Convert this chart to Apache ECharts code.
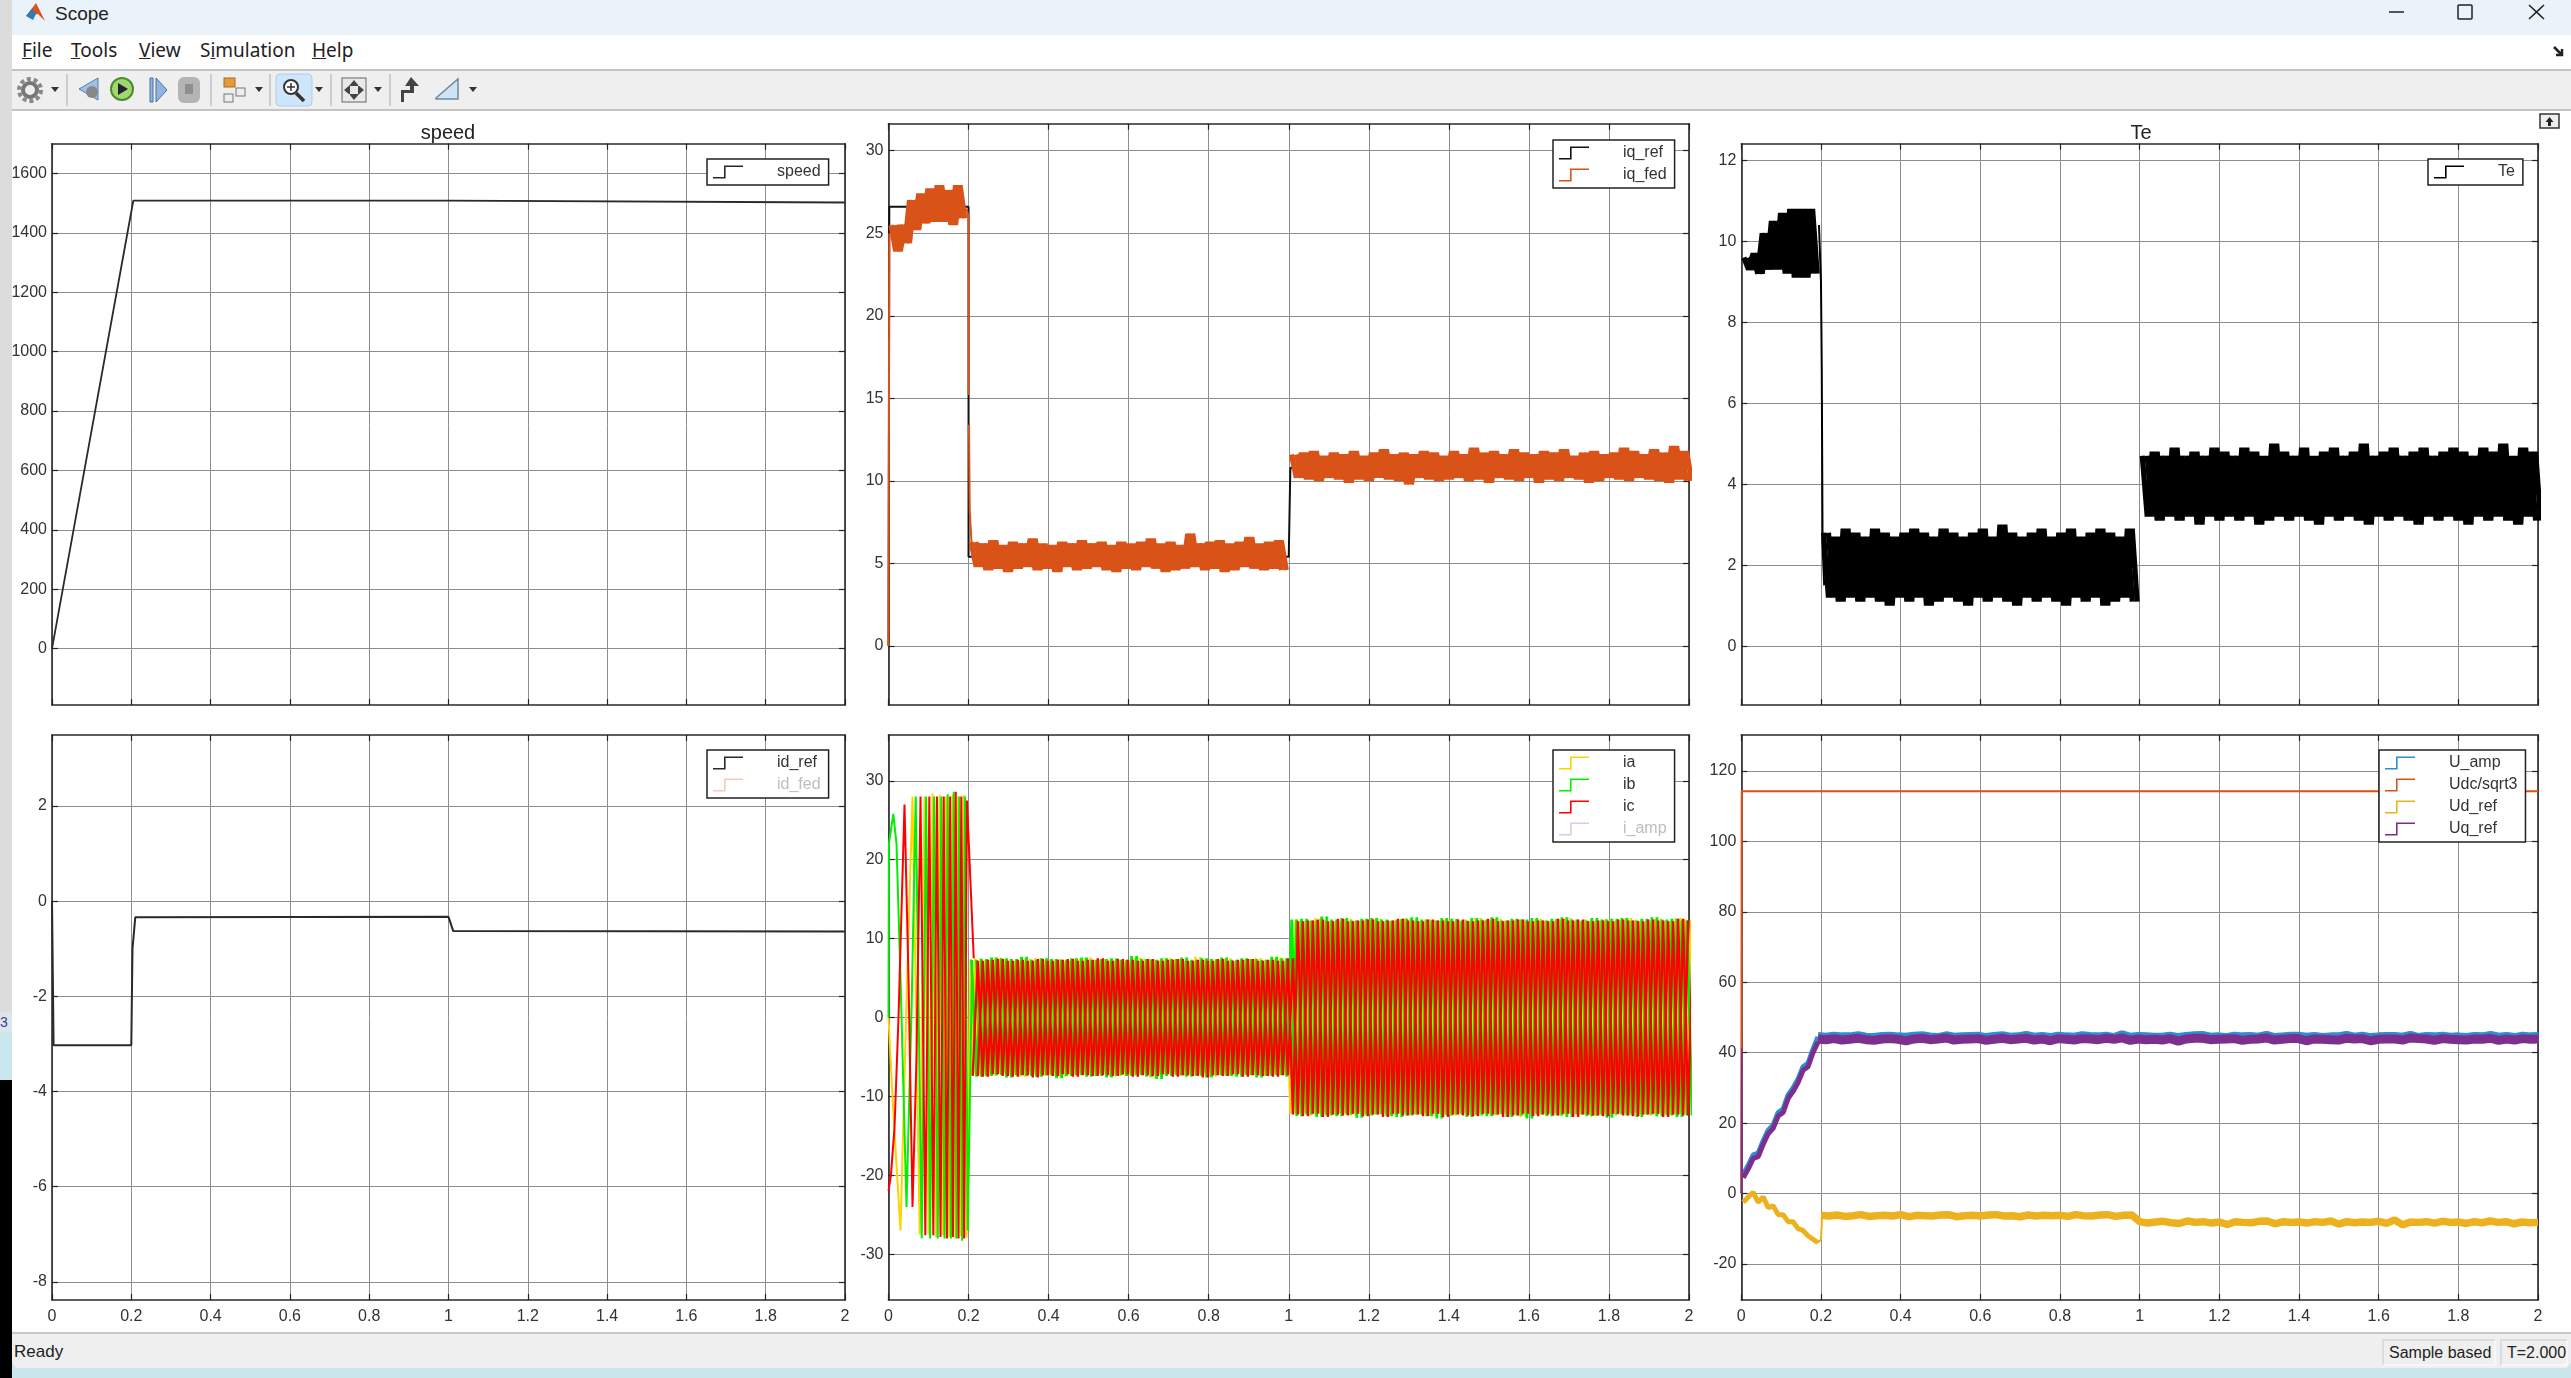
<!DOCTYPE html>
<html>
<head>
<meta charset="utf-8">
<title>Scope</title>
<script src="https://cdn.jsdelivr.net/npm/echarts@6/dist/echarts.min.js"></script>
<style>
    html, body { margin: 0; padding: 0; background: #c9e6ec; overflow: hidden; }
    #win { position: absolute; left: 0; top: 0; width: 2571px; height: 1378px; font-family: "Liberation Sans", Arial, sans-serif; color: #222; }
    #win div { position: absolute; box-sizing: border-box; }
    #picture { position: absolute; left: 0; top: 0; width: 2571px; height: 1378px; }
    .menu { font-family: "Noto Sans", sans-serif; font-size: 19px; top: 37px; }
    .field { border: 2px solid #dcdcdc; border-right-color: #f7f7f7; border-bottom-color: #f7f7f7; font-size: 16px; line-height: 24px; padding-left: 5px; white-space: nowrap; }
</style>
</head>
<body>
<div id="win">
    <!-- what lies behind the scope window -->
    <div style="left:0;top:0;width:12px;height:1012px;background:#dcdcdc"></div>
    <div style="left:0;top:1012px;width:12px;height:20px;background:#dfe3ea;color:#33409a;font-size:14px;line-height:20px">3</div>
    <div style="left:0;top:1032px;width:12px;height:48px;background:#c9e8ee"></div>
    <div style="left:0;top:1080px;width:12px;height:298px;background:#000"></div>
    <!-- window -->
    <div style="left:12px;top:0;width:2559px;height:1368px;background:#fff;border-bottom-left-radius:8px;border-bottom-right-radius:8px"></div>
    <div style="left:12px;top:0;width:2559px;height:35px;background:#eaf3f9"></div>
    <div style="left:55px;top:2px;font-size:19px;line-height:24px">Scope</div>
    <div class="menu" style="left:22px"><u>F</u>ile</div>
    <div class="menu" style="left:71px"><u>T</u>ools</div>
    <div class="menu" style="left:139px"><u>V</u>iew</div>
    <div class="menu" style="left:200px">S<u>i</u>mulation</div>
    <div class="menu" style="left:312px"><u>H</u>elp</div>
    <div style="left:12px;top:69px;width:2559px;height:42px;background:#efefef;border-top:2px solid #c4c4c4;border-bottom:2px solid #c4c4c4"></div>
    <div style="left:12px;top:1332px;width:2559px;height:36px;background:#efefef;border-top:2px solid #c8c8c8;border-bottom-left-radius:8px;border-bottom-right-radius:8px"></div>
    <div style="left:14px;top:1340px;font-size:17px;line-height:24px">Ready</div>
    <div class="field" style="left:2382px;top:1339px;width:114px;height:27px">Sample based</div>
    <div class="field" style="left:2500px;top:1339px;width:68px;height:27px">T=2.000</div>
    <svg style="position:absolute;left:0;top:0" width="2571" height="132">
        <!-- logo and window buttons -->
        <polygon points="26,16 36,3 45,21 38,14" fill="#d9531e"/>
        <polygon points="26,16 33,20 36,14 32,9" fill="#2b7bbf"/>
        <line x1="2389" y1="12" x2="2404" y2="12" stroke="#222" stroke-width="1.5"/>
        <rect x="2458" y="5" width="14" height="14" rx="1" fill="none" stroke="#222" stroke-width="1.5"/>
        <path d="M2529 5L2544 19M2544 5L2529 19" stroke="#222" stroke-width="1.5"/>
        <path d="M2554 47l8 8m0-6v6h-6" stroke="#222" stroke-width="2.5" fill="none"/>
        <!-- toolbar -->
        <circle cx="30" cy="90" r="11" fill="none" stroke="#888" stroke-width="4" stroke-dasharray="4 2.9"/>
        <circle cx="30" cy="90" r="7" fill="none" stroke="#777" stroke-width="4"/>
        <g fill="#333"><path d="M51 87h8l-4 5z"/><path d="M255 87h8l-4 5z"/><path d="M315 87h8l-4 5z"/><path d="M374 87h8l-4 5z"/><path d="M469 87h8l-4 5z"/></g>
        <g stroke="#aaa"><line x1="67" y1="74" x2="67" y2="106"/><line x1="211" y1="74" x2="211" y2="106"/><line x1="270" y1="74" x2="270" y2="106"/><line x1="331" y1="74" x2="331" y2="106"/><line x1="390" y1="74" x2="390" y2="106"/></g>
        <path d="M98 78l-19 11l19 11z" fill="#9cc3e6" stroke="#5a7fa8"/>
        <circle cx="92" cy="92" r="6" fill="#888"/>
        <circle cx="122" cy="89" r="11" fill="#9fd86e" stroke="#4c8a2a" stroke-width="2"/>
        <path d="M118 83l10 6l-10 6z" fill="#223"/>
        <path d="M150 78h3v24h-3zM156 78l11 12l-11 12z" fill="#8fb4e0" stroke="#4f6f9f"/>
        <rect x="178" y="77" width="22" height="26" rx="6" fill="#b4b4b4"/>
        <rect x="185" y="84" width="8" height="10" fill="#8e8e8e"/>
        <rect x="224" y="78" width="11" height="9" fill="#e59b3a" stroke="#a86a1a"/>
        <rect x="224" y="94" width="9" height="8" fill="#eee" stroke="#777"/>
        <rect x="236" y="88" width="9" height="8" fill="#eee" stroke="#777"/>
        <rect x="276" y="74" width="36" height="32" rx="4" fill="#cfe5fa" stroke="#a9cdf0"/>
        <circle cx="291" cy="87" r="7" fill="#fff" stroke="#333" stroke-width="2"/>
        <path d="M287 87h8M291 83v8" stroke="#333" stroke-width="1.5"/>
        <path d="M296 93l8 8" stroke="#333" stroke-width="3.5"/>
        <rect x="342" y="78" width="24" height="24" fill="#e8e8e8" stroke="#666"/>
        <path d="M354 80l5 6h-10zM354 100l5-6h-10zM344 90l6-5v10zM364 90l-6-5v10z" fill="#444"/>
        <path d="M411 77l8 9h-5v7l-10 0v9h-3v-12h9v-4h-5z" fill="#444"/>
        <path d="M436 98l22-19v20h-22z" fill="#cfe4f2" stroke="#6e8aa0" stroke-width="1.5"/>
        <!-- undock -->
        <rect x="2540" y="114" width="19" height="14" fill="#eee" stroke="#333" stroke-width="1.5"/>
        <path d="M2549.5 117l4 5h-2.5v4h-3v-4h-2.5z" fill="#222"/>
    </svg>
    <div id="picture"></div>
</div>

<script>
    // time axis
    var xTicks = [0, 0.2, 0.4, 0.6, 0.8, 1, 1.2, 1.4, 1.6, 1.8, 2];

    // y ticks per panel
    var speedTicks = [0, 200, 400, 600, 800, 1000, 1200, 1400, 1600];
    var iqTicks = [0, 5, 10, 15, 20, 25, 30];
    var teTicks = [0, 2, 4, 6, 8, 10, 12];
    var idTicks = [-8, -6, -4, -2, 0, 2];
    var phaseTicks = [-30, -20, -10, 0, 10, 20, 30];
    var voltTicks = [-20, 0, 20, 40, 60, 80, 100, 120];

    // speed
    var speedT = [0, 0.205, 1, 1.004, 2];
    var speed = [0, 1508, 1508, 1502, 1502];

    // id
    var idRefT = [0, 0.004, 0.2, 0.203, 0.21, 1, 1.012, 2];
    var idRef = [0, -3.03, -3.03, -1, -0.34, -0.33, -0.63, -0.64];

    // iq
    var iqRefT = [0, 0.002, 0.2, 0.2, 1, 1.004, 2];
    var iqRef = [0, 26.6, 26.6, 5.4, 5.4, 10.8, 10.8];
    var iqFedRiseT = [0, 0.002];
    var iqFedRise = [0, 25];
    var iqFedDropT = [0.195, 0.2, 0.2, 0.2, 0.201, 0.203, 0.208];
    var iqFedDrop = [26.5, 26, 15.2, null, 13.4, 8.2, 6];
    var iqFedStart = [25.5, 23.9, 25.5, 24.4, 27, 25.2, 27.4, 25.6, 27.7, 25.7, 27.9, 25.7, 27.6, 25.5, 27.9, 25.9];
    var iqFedLow = [
        6.3, 4.8, 6.2, 4.6, 6.4, 4.7, 6.1, 4.5, 6.3, 4.7, 6.2, 4.8, 6.5, 4.6, 6.2, 4.7,
        6.1, 4.5, 6.3, 4.8, 6.2, 4.6, 6.4, 4.7, 6.2, 4.8, 6.3, 4.6, 6.1, 4.5, 6.3, 4.7,
        6.2, 4.6, 6.3, 4.8, 6.5, 4.7, 6.2, 4.5, 6.3, 4.6, 6.1, 4.7, 6.8, 4.8, 6.2, 4.6,
        6.3, 4.7, 6.4, 4.5, 6.2, 4.6, 6.3, 4.8, 6.6, 4.7, 6.2, 4.6, 6.3, 4.7, 6.4, 4.6
    ];
    var iqFedHigh = [
        11.6, 10.2, 11.7, 10.1, 11.8, 10.0, 11.5, 10.2, 11.7, 10.1, 11.6, 9.9, 11.8, 10.1, 11.5, 10.0,
        11.7, 10.2, 11.9, 10.1, 11.6, 10.0, 11.7, 9.8, 11.6, 10.2, 11.8, 10.1, 11.7, 10.0, 11.5, 10.1,
        11.8, 10.2, 11.6, 10.0, 12.0, 10.1, 11.7, 9.9, 11.8, 10.2, 11.6, 10.1, 11.9, 10.0, 11.7, 10.2,
        11.6, 9.9, 11.8, 10.1, 11.7, 10.0, 11.9, 10.2, 11.5, 10.1, 11.7, 9.9, 11.8, 10.0, 11.6, 10.2,
        11.7, 10.1, 12.0, 10.0, 11.8, 10.2, 11.6, 10.1, 11.9, 10.0, 11.7, 9.9, 12.1, 10.1, 11.8, 10.0
    ];

    // Te
    var teStart = [9.6, 9.3, 9.7, 9.2, 10.2, 9.3, 10.5, 9.3, 10.7, 9.2, 10.8, 9.1, 10.8, 9.1, 10.8, 9.2];
    var teDropT = [0.195, 0.2, 0.202, 0.204, 0.208];
    var teDrop = [10.4, 9, 6.8, 2.5, 1.5];
    var teLow = [
        2.8, 1.2, 2.7, 1.1, 2.9, 1.2, 2.8, 1.1, 2.7, 1.2, 2.9, 1.1, 2.8, 1.0, 2.7, 1.2,
        2.8, 1.1, 2.9, 1.2, 2.8, 1.0, 2.7, 1.1, 2.9, 1.2, 2.8, 1.1, 2.7, 1.0, 2.8, 1.2,
        2.9, 1.1, 2.7, 1.2, 3.0, 1.1, 2.8, 1.0, 2.7, 1.2, 2.8, 1.1, 2.9, 1.2, 2.7, 1.1,
        2.8, 1.0, 2.9, 1.2, 2.7, 1.1, 2.8, 1.2, 2.9, 1.0, 2.8, 1.1, 2.7, 1.2, 2.9, 1.1
    ];
    var teHigh = [
        4.7, 3.2, 4.8, 3.1, 4.7, 3.2, 4.9, 3.1, 4.7, 3.2, 4.8, 3.0, 4.7, 3.2, 4.9, 3.1,
        4.8, 3.2, 4.7, 3.1, 4.9, 3.2, 4.8, 3.0, 4.7, 3.1, 5.0, 3.2, 4.8, 3.1, 4.7, 3.2,
        4.9, 3.1, 4.7, 3.0, 4.8, 3.2, 4.9, 3.1, 4.7, 3.2, 4.8, 3.1, 5.0, 3.0, 4.7, 3.2,
        4.8, 3.1, 4.9, 3.2, 4.7, 3.1, 4.8, 3.0, 4.9, 3.2, 4.7, 3.1, 4.8, 3.2, 4.9, 3.1,
        4.8, 3.0, 4.7, 3.2, 4.9, 3.1, 4.8, 3.2, 5.0, 3.1, 4.7, 3.0, 4.9, 3.2, 4.8, 3.1
    ];

    // phase currents, start-up swing
    var iaStartT = [0, 0.012, 0.03, 0.045, 0.06, 0.078, 0.09, 0.1, 0.11, 0.119, 0.128, 0.136, 0.144, 0.152, 0.16, 0.167, 0.174, 0.181, 0.188, 0.195, 0.205];
    var iaStart = [0, -12, -27, 2, 28, -27.5, 28, -27.5, 28.4, -27.8, 28.2, -27.6, 28, -27.8, 28.3, -28, 28, -27.7, 28.2, -27.9, 7.4];
    var ibStartT = [0, 0.001, 0.012, 0.02, 0.03, 0.045, 0.058, 0.068, 0.083, 0.094, 0.104, 0.114, 0.123, 0.132, 0.14, 0.148, 0.156, 0.163, 0.17, 0.177, 0.184, 0.191, 0.198, 0.209];
    var ibStart = [0, 22, 25.8, 22, 5, -24, 2, 28, -28, 28, -28, 28, -28, 28, -28, 28.3, -28, 28.6, -28, 28, -28.3, 28, -27, 7.2];
    var icStartT = [0, 0.006, 0.015, 0.025, 0.04, 0.05, 0.06, 0.07, 0.08, 0.092, 0.102, 0.112, 0.121, 0.13, 0.138, 0.146, 0.154, 0.161, 0.168, 0.175, 0.182, 0.189, 0.196, 0.213];
    var icStart = [-22, -20, -14, 0, 27, 5, -24, -5, 28, -27.6, 28, -27.6, 28, -27.8, 28, -28, 28, -27.8, 28.6, -28, 28, -28, 27.5, 7.5];

    // phase currents, steady running
    var iaBand = [
        -7.2, 7.5, -7.3, 7.3, -7.4, 7.6, -7.2, 7.4, -7.3, 7.2, -7.5, 7.4, -7.2, 7.5, -7.4, 7.3,
        -7.3, 7.4, -7.5, 7.2, -7.3, 7.5, -7.2, 7.6, -7.4, 7.3, -7.2, 7.4, -7.5, 7.3, -7.4, 7.2,
        -7.3, 7.6, -7.2, 7.4, -7.6, 7.3, -7.3, 7.5, -7.2, 7.4, -7.4, 7.2, -7.3, 7.7, -7.2, 7.4,
        -7.5, 7.3, -7.3, 7.5, -7.4, 7.2, -7.2, 7.4, -7.3, 7.5, -7.4, 7.3, -7.2, 7.6, -7.3, 7.4,
        -12.2, 12.4, -12.1, 12.3, -12.4, 12.6, -12.2, 12.3, -12.3, 12.2, -12.1, 12.5, -12.4, 12.3, -12.2, 12.4,
        -12.3, 12.5, -12.2, 12.2, -12.4, 12.4, -12.1, 12.6, -12.3, 12.3, -12.2, 12.4, -12.5, 12.3, -12.2, 12.5,
        -12.4, 12.2, -12.1, 12.4, -12.3, 12.6, -12.2, 12.3, -12.4, 12.5, -12.1, 12.3, -12.3, 12.4, -12.6, 12.2,
        -12.2, 12.5, -12.3, 12.3, -12.1, 12.4, -12.4, 12.6, -12.2, 12.2, -12.3, 12.4, -12.5, 12.3, -12.2, 12.5,
        -12.4, 12.3, -12.2, 12.6, -12.1, 12.4, -12.3, 12.2, -12.4, 12.5, -12.2, 12.3, -12.3, 12.6, -12.2, 12.4
    ];
    var ibBand = [
        7.3, -7.5, 7.4, -7.4, 7.6, -7.3, 7.5, -7.6, 7.4, -7.3, 7.7, -7.4, 7.3, -7.5, 7.5, -7.3,
        7.4, -7.7, 7.3, -7.4, 7.5, -7.3, 7.6, -7.5, 7.3, -7.4, 7.4, -7.6, 7.5, -7.3, 7.3, -7.4,
        7.8, -7.3, 7.4, -7.5, 7.3, -7.8, 7.5, -7.4, 7.4, -7.3, 7.6, -7.5, 7.3, -7.4, 7.5, -7.6,
        7.4, -7.3, 7.6, -7.4, 7.3, -7.5, 7.5, -7.3, 7.4, -7.6, 7.3, -7.4, 7.7, -7.3, 7.5, -7.5,
        12.4, -12.5, 12.5, -12.3, 12.3, -12.6, 12.8, -12.4, 12.4, -12.5, 12.6, -12.3, 12.3, -12.7, 12.5, -12.4,
        12.6, -12.3, 12.4, -12.5, 12.3, -12.6, 12.5, -12.4, 12.7, -12.3, 12.4, -12.5, 12.3, -12.8, 12.6, -12.4,
        12.5, -12.3, 12.3, -12.6, 12.6, -12.4, 12.4, -12.5, 12.7, -12.3, 12.3, -12.6, 12.5, -12.4, 12.4, -12.8,
        12.6, -12.3, 12.3, -12.5, 12.5, -12.4, 12.7, -12.6, 12.4, -12.3, 12.3, -12.5, 12.6, -12.4, 12.4, -12.7,
        12.5, -12.3, 12.6, -12.4, 12.3, -12.6, 12.5, -12.3, 12.7, -12.5, 12.4, -12.4, 12.5, -12.6, 12.3, -12.4
    ];
    var icBand = [
        -7.4, 7.2, -7.5, 7.3, -7.2, 7.4, -7.4, 7.2, -7.5, 7.3, -7.3, 7.2, -7.6, 7.4, -7.3, 7.2,
        -7.4, 7.3, -7.2, 7.4, -7.5, 7.2, -7.3, 7.3, -7.4, 7.5, -7.3, 7.2, -7.4, 7.4, -7.2, 7.3,
        -7.5, 7.2, -7.3, 7.4, -7.4, 7.2, -7.2, 7.3, -7.5, 7.4, -7.3, 7.2, -7.4, 7.3, -7.6, 7.2,
        -7.3, 7.4, -7.4, 7.2, -7.2, 7.3, -7.5, 7.4, -7.3, 7.2, -7.4, 7.3, -7.5, 7.2, -7.3, 7.5,
        -12.3, 12.2, -12.5, 12.3, -12.2, 12.4, -12.6, 12.2, -12.3, 12.5, -12.4, 12.2, -12.2, 12.3, -12.5, 12.4,
        -12.3, 12.2, -12.6, 12.3, -12.2, 12.5, -12.4, 12.3, -12.3, 12.2, -12.5, 12.4, -12.2, 12.3, -12.6, 12.2,
        -12.3, 12.4, -12.4, 12.2, -12.5, 12.3, -12.2, 12.5, -12.3, 12.2, -12.6, 12.3, -12.4, 12.4, -12.2, 12.2,
        -12.5, 12.3, -12.3, 12.2, -12.4, 12.5, -12.2, 12.3, -12.6, 12.4, -12.3, 12.2, -12.4, 12.3, -12.5, 12.2,
        -12.2, 12.4, -12.4, 12.3, -12.5, 12.2, -12.3, 12.4, -12.2, 12.3, -12.6, 12.2, -12.3, 12.5, -12.4, 12.3
    ];

    // voltages
    var udcT = [0, 0.001, 2];
    var udc = [0, 114.3, 114.3];
    var uqRiseT = [0, 0.001, 0.002];
    var uqRise = [0, 41.5, 5];
    var uqStart = [4.5, 7, 10, 10.5, 14, 17, 18.5, 22, 23, 27, 29, 31.5, 35, 36, 40, 43];
    var uaStart = [5.5, 8, 11, 11.5, 15, 18, 19.5, 23, 24, 28, 30, 32.5, 36, 37, 41, 44.5];
    var udStart = [-2.5, -1, 0.3, -2.5, -1, -4, -3.5, -6, -6, -8, -8, -10, -10.5, -12, -13, -14];
    var udDropT = [0.1925, 0.2, 0.203];
    var udDrop = [-14, -13, -6.2];
    var uqBand = [
        43.9, 43.7, 44.0, 43.6, 43.8, 44.1, 43.7, 43.5, 43.9, 44.0, 43.8, 43.4, 43.9, 44.1, 43.7, 43.9, 44.2, 43.6, 43.8, 43.9,
        44.0, 43.5, 43.8, 44.1, 43.7, 43.9, 44.1, 43.6, 43.9, 43.4, 44.0, 43.8, 43.6, 44.0, 43.9, 43.7, 44.1, 43.8, 44.2, 43.5,
        43.9, 43.7, 43.8, 43.6, 44.0, 43.3, 43.9, 44.1, 44.1, 43.7, 43.8, 43.9, 44.0, 43.5, 43.8, 43.9, 44.2, 43.6, 43.8, 44.0,
        44.0, 43.4, 43.9, 43.8, 43.7, 43.6, 44.1, 43.9, 44.0, 43.4, 43.8, 43.9, 43.9, 43.6, 44.2, 44.0, 43.9, 43.5, 44.0, 43.8,
        43.7, 43.6, 43.9, 43.8, 44.1, 43.5, 43.9, 43.6, 44.0, 43.8, 43.9
    ];
    var uaBand = [
        44.6, 44.4, 44.7, 44.5, 44.5, 44.8, 44.4, 44.3, 44.6, 44.7, 44.5, 44.4, 44.7, 44.8, 44.5, 44.3, 44.8, 44.4, 44.5, 44.6,
        44.7, 44.3, 44.6, 44.8, 44.4, 44.5, 44.9, 44.4, 44.6, 44.3, 44.7, 44.5, 44.4, 44.8, 44.6, 44.5, 44.7, 44.3, 45.1, 44.4,
        44.6, 44.5, 44.4, 44.4, 44.7, 44.3, 44.6, 44.8, 44.9, 44.4, 44.5, 44.3, 44.7, 44.5, 44.6, 44.4, 44.9, 44.3, 44.5, 44.7,
        44.7, 44.4, 44.6, 44.3, 44.5, 44.5, 44.9, 44.4, 44.7, 44.3, 44.5, 44.6, 44.6, 44.4, 44.9, 44.3, 44.6, 44.5, 44.7, 44.4,
        44.5, 44.3, 44.6, 44.5, 44.9, 44.4, 44.6, 44.3, 44.7, 44.5, 44.6
    ];
    var udBand = [
        -6.2, -6.4, -6.1, -6.5, -6.3, -6.0, -6.5, -6.3, -6.2, -6.4, -6.0, -6.6, -6.2, -6.3, -6.4, -6.1, -6.0, -6.6, -6.3, -6.2,
        -6.4, -6.1, -6.0, -6.4, -6.3, -6.6, -6.1, -6.4, -6.2, -6.3, -6.2, -6.5, -6.0, -6.3, -6.4, -6.1, -6.0, -6.5, -6.2, -6.1,
        -8.0, -8.4, -8.1, -7.9, -8.3, -8.5, -7.8, -8.2, -8.0, -8.4, -8.1, -8.8, -8.0, -8.2, -8.3, -7.9, -7.8, -8.6, -8.0, -8.2,
        -8.1, -8.4, -8.0, -8.2, -7.8, -8.7, -8.0, -8.3, -8.1, -8.2, -7.9, -8.5, -7.5, -8.9, -8.1, -8.2, -8.0, -8.4, -7.9, -8.2,
        -8.1, -8.5, -8.0, -8.3, -7.8, -8.2, -8.0, -8.6, -8.1, -8.3, -8.2
    ];

    function pts(ts, vs) {
        return ts.map(function(t, i) { return [t, vs[i]]; });
    }

    // scope samples come at a fixed step
    function sampled(start, step, vs) {
        return vs.map(function(v, i) { return [start + i * step, v]; });
    }

    var STEP_ICON = 'path://M0 11.5H11V0H30V1.6H12.6V13H0Z';

    var panels = [
        { left: 52, top: 143.7, right: 845, bottom: 705, min: -190, max: 1700, ticks: speedTicks, labels: false },
        { left: 888.5, top: 123.7, right: 1689, bottom: 705, min: -3.57, max: 31.63, ticks: iqTicks, labels: false },
        { left: 1741.3, top: 143.7, right: 2538, bottom: 705, min: -1.455, max: 12.41, ticks: teTicks, labels: false },
        { left: 52, top: 735, right: 845, bottom: 1300, min: -8.38, max: 3.49, ticks: idTicks, labels: true },
        { left: 888.5, top: 735, right: 1689, bottom: 1300, min: -35.8, max: 35.8, ticks: phaseTicks, labels: true },
        { left: 1741.3, top: 735, right: 2538, bottom: 1300, min: -30.25, max: 130.25, ticks: voltTicks, labels: true }
    ];

    var font = 'Liberation Sans';
    var grid = [], xAxis = [], yAxis = [];

    function plain(v) {
        return String(v);
    }

    panels.forEach(function(p, i) {
        grid.push({ left: p.left, top: p.top, width: p.right - p.left, height: p.bottom - p.top });
        var line = { show: true, onZero: false, lineStyle: { color: '#2a2a2a', width: 1.6 } };
        var tick = { show: true, inside: true, length: 6, lineStyle: { color: '#222', width: 1.2 } };
        // the mirrored axes give the frame and the inward ticks on the far sides
        xAxis.push({
            type: 'value', gridIndex: i, min: 0, max: 2, axisLine: line,
            axisTick: Object.assign({ customValues: xTicks }, tick),
            axisLabel: { show: p.labels, customValues: xTicks, formatter: plain, margin: 9, fontSize: 16, fontFamily: font, color: '#333' },
            splitLine: { show: true, lineStyle: { color: '#8e8e8e', width: 1 } }
        }, {
            type: 'value', gridIndex: i, min: 0, max: 2, position: 'top', axisLine: line,
            axisTick: Object.assign({ customValues: xTicks }, tick),
            axisLabel: { show: false }, splitLine: { show: false }
        });
        yAxis.push({
            type: 'value', gridIndex: i, min: p.min, max: p.max, axisLine: line,
            axisTick: Object.assign({ customValues: p.ticks }, tick),
            axisLabel: { customValues: p.ticks, formatter: plain, margin: 5, fontSize: 16, fontFamily: font, color: '#333' },
            splitLine: { show: true, lineStyle: { color: '#8e8e8e', width: 1 } }
        }, {
            type: 'value', gridIndex: i, min: p.min, max: p.max, position: 'right', axisLine: line,
            axisTick: Object.assign({ customValues: p.ticks }, tick),
            axisLabel: { show: false }, splitLine: { show: false }
        });
    });

    function trace(name, panel, data, color, width) {
        return {
            type: 'line', name: name, xAxisIndex: panel * 2, yAxisIndex: panel * 2,
            data: data, symbol: 'none', color: color, animation: false,
            itemStyle: { color: color },
            lineStyle: { color: color, width: width, join: 'bevel' }
        };
    }

    // noisy stretch: the samples swing hi/lo, a second pass one sample later closes the gaps
    function band(name, panel, start, step, vs, color, width) {
        return [
            trace(name, panel, sampled(start, step, vs), color, width),
            trace(name, panel, sampled(start + step, step, vs), color, width)
        ];
    }

    var ORANGE = '#D95319', BLUE = '#2b8fd0', GOLD = '#EDB120', PURPLE = '#7E2F8E';
    var YELLOW = '#FFD200', GREEN = '#00F000', RED = '#FF0000';

    var series = [].concat(
        trace('speed', 0, pts(speedT, speed), '#2a2a2a', 1.8),

        trace('iq_ref', 1, pts(iqRefT, iqRef), '#111', 2),
        trace('iq_fed', 1, pts(iqFedRiseT, iqFedRise), ORANGE, 2),
        band('iq_fed', 1, 0.0065, 0.0115, iqFedStart, ORANGE, 5.2),
        trace('iq_fed', 1, pts(iqFedDropT, iqFedDrop), ORANGE, 2),
        band('iq_fed', 1, 0.2065, 0.0123, iqFedLow, ORANGE, 5.2),
        band('iq_fed', 1, 1.0065, 0.0125, iqFedHigh, ORANGE, 5.2),

        band('Te', 2, 0.0065, 0.0115, teStart, '#000', 5.2),
        trace('Te', 2, pts(teDropT, teDrop), '#000', 2),
        band('Te', 2, 0.2065, 0.0123, teLow, '#000', 5.2),
        band('Te', 2, 1.0065, 0.0125, teHigh, '#000', 5.2),

        trace('id_ref', 3, pts(idRefT, idRef), '#2a2a2a', 2),
        trace('id_fed', 3, [], '#f9c9b6', 1.5),

        trace('ia', 4, pts(iaStartT, iaStart), YELLOW, 2),
        band('ia', 4, 0.2045, 0.0125, iaBand, YELLOW, 2.4),
        trace('ib', 4, pts(ibStartT, ibStart), GREEN, 2),
        band('ib', 4, 0.2075, 0.0125, ibBand, GREEN, 2.8),
        trace('ic', 4, pts(icStartT, icStart), RED, 2),
        band('ic', 4, 0.2105, 0.0125, icBand, RED, 2.4),
        trace('i_amp', 4, [], '#dcc8ea', 1.5),

        trace('U_amp', 5, sampled(0.005, 0.0125, uaStart), BLUE, 5),
        trace('U_amp', 5, sampled(0.1925, 0.0201, uaBand), BLUE, 9),
        trace('Udc/sqrt3', 5, pts(udcT, udc), ORANGE, 2),
        trace('Ud_ref', 5, sampled(0.005, 0.0125, udStart), GOLD, 5),
        trace('Ud_ref', 5, pts(udDropT, udDrop), GOLD, 2),
        trace('Ud_ref', 5, sampled(0.2, 0.02, udBand), GOLD, 7.5),
        trace('Uq_ref', 5, pts(uqRiseT, uqRise), PURPLE, 1.5),
        trace('Uq_ref', 5, sampled(0.005, 0.0125, uqStart), PURPLE, 5),
        trace('Uq_ref', 5, sampled(0.1925, 0.0201, uqBand), PURPLE, 9)
    );

    function legend(left, top, data) {
        return {
            left: left, top: top, orient: 'vertical', align: 'left', selectedMode: false,
            backgroundColor: '#fff', borderColor: '#222', borderWidth: 1.5, padding: [4, 8, 4, 6],
            icon: STEP_ICON, symbolKeepAspect: false, itemWidth: 30, itemHeight: 13, itemGap: 4,
            textStyle: { fontSize: 16, fontFamily: font, color: '#333', lineHeight: 18, padding: [0, 0, 0, 29] },
            data: data
        };
    }

    var faded = { color: '#bdbdbd', fontSize: 16, fontFamily: font, lineHeight: 18, padding: [0, 0, 0, 29] };

    var myChart = echarts.init(document.getElementById('picture'), null, { width: 2571, height: 1378 });
    myChart.setOption({
        animation: false,
        backgroundColor: 'transparent',
        tooltip: { show: false },
        title: [
            { text: 'speed', left: 443, top: 118, textAlign: 'center', textStyle: { fontSize: 20, fontWeight: 'normal', fontFamily: font, color: '#222' } },
            { text: 'Te', left: 2136, top: 118, textAlign: 'center', textStyle: { fontSize: 20, fontWeight: 'normal', fontFamily: font, color: '#222' } }
        ],
        grid: grid,
        xAxis: xAxis,
        yAxis: yAxis,
        legend: [
            legend(707, 159, ['speed']),
            legend(1553, 140, ['iq_ref', 'iq_fed']),
            legend(2428, 159, ['Te']),
            legend(707, 750, ['id_ref', { name: 'id_fed', textStyle: faded }]),
            legend(1553, 750, ['ia', 'ib', 'ic', { name: 'i_amp', textStyle: faded }]),
            legend(2379, 750, ['U_amp', 'Udc/sqrt3', 'Ud_ref', 'Uq_ref'])
        ],
        series: series
    });
</script>
</body>
</html>
